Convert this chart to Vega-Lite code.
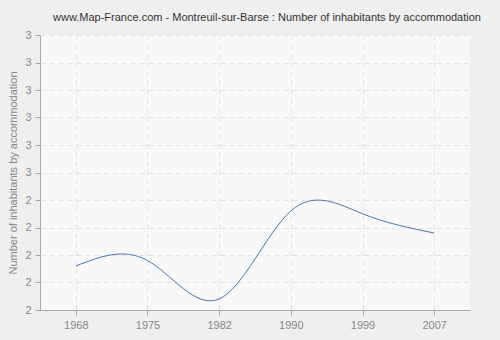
{
  "$schema": "https://vega.github.io/schema/vega-lite/v6.json",
  "width": 430,
  "height": 275,
  "autosize": {"type": "none"},
  "padding": {"left": 40, "top": 35, "right": 30, "bottom": 30},
  "background": "#efefef",
  "title": {
    "text": "www.Map-France.com - Montreuil-sur-Barse : Number of inhabitants by accommodation",
    "font": "Liberation Sans",
    "fontSize": 11,
    "fontWeight": "normal",
    "color": "#333333",
    "anchor": "middle",
    "dx": 12,
    "offset": 6
  },
  "config": {
    "view": {"stroke": null, "fill": "#f8f8f8"},
    "axis": {
      "labelFont": "Liberation Sans",
      "labelFontSize": 11,
      "labelColor": "#888888",
      "titleFont": "Liberation Sans",
      "titleFontSize": 11,
      "titleColor": "#888888",
      "titleFontWeight": "normal",
      "domainColor": "#aaaaaa",
      "tickColor": "#aaaaaa",
      "tickSize": 5,
      "gridColor": "#e2e2e2",
      "gridDash": [5, 4],
      "gridWidth": 1
    }
  },
  "data": {
    "values": [
      {"year": "1968", "value": 2.16},
      {"year": "1975", "value": 2.18},
      {"year": "1982", "value": 2.04},
      {"year": "1990", "value": 2.36},
      {"year": "1999", "value": 2.35},
      {"year": "2007", "value": 2.28}
    ]
  },
  "mark": {"type": "line", "interpolate": "natural", "color": "#4a78ad", "strokeWidth": 1},
  "encoding": {
    "x": {
      "field": "year",
      "type": "ordinal",
      "scale": {"type": "point", "padding": 0.5},
      "axis": {"title": null, "labelAngle": 0, "grid": true, "labelPadding": 4}
    },
    "y": {
      "field": "value",
      "type": "quantitative",
      "scale": {"domain": [2, 3], "nice": false, "zero": false},
      "axis": {
        "title": "Number of inhabitants by accommodation",
        "values": [2, 2.1, 2.2, 2.3, 2.4, 2.5, 2.6, 2.7, 2.8, 2.9, 3],
        "format": ".0f",
        "grid": true,
        "labelPadding": 4,
        "titleX": -22,
        "titlePadding": 0
      }
    }
  }
}
